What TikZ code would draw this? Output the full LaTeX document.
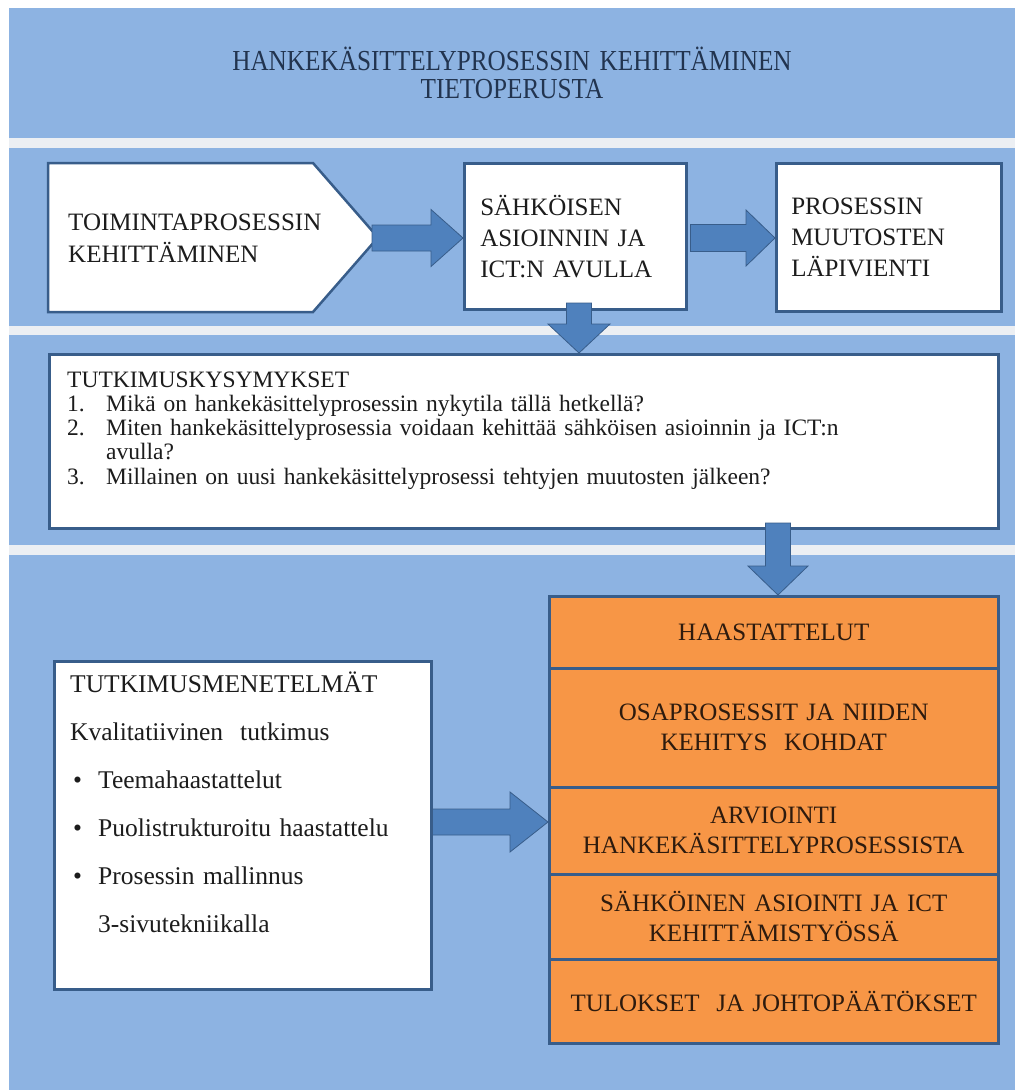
\documentclass[tikz,border=0pt]{standalone}
\usepackage{fontspec}
\setmainfont{Liberation Serif}
\newfontfamily\titlefont[FakeStretch=0.87]{Liberation Serif}
\usetikzlibrary{calc}

\definecolor{bandblue}{HTML}{8DB3E2}
\definecolor{gapgrey}{HTML}{ECEFF3}
\definecolor{edgeblue}{HTML}{385D8A}
\definecolor{arrowblue}{HTML}{4F81BD}
\definecolor{boxorange}{HTML}{F79646}
\definecolor{titleink}{HTML}{22344F}
\definecolor{bodyink}{HTML}{1C1C1C}
\definecolor{orangeink}{HTML}{2E1B0E}

\tikzset{
  whitebox/.style={rectangle, draw=edgeblue, line width=2.5pt, fill=white, anchor=north west, inner sep=0pt},
  orangebox/.style={rectangle, draw=edgeblue, line width=2.5pt, fill=boxorange, anchor=north west,
    inner sep=0pt, minimum width=449pt, text width=440pt, align=center, text=orangeink,
    font=\fontsize{25}{30}\selectfont},
  fatarrow/.style={fill=arrowblue, draw=edgeblue, line width=0.8pt, line join=miter},
  bodytext/.style={inner sep=0pt, anchor=base west, align=left, text=bodyink},
}

% thick block arrow from #1 to #2: shaft half width #3, head half width #4, head length #5
\newcommand\blockarrow[5]{%
  \coordinate (ba-b) at ($(#2)!#5!(#1)$);
  \filldraw[fatarrow] ($(#1)!#3!90:(#2)$) -- ($(ba-b)!#3!90:(#2)$) -- ($(ba-b)!#4!90:(#2)$) -- (#2)
    -- ($(ba-b)!#4!-90:(#2)$) -- ($(ba-b)!#3!-90:(#2)$) -- ($(#1)!#3!-90:(#2)$) -- cycle;}

\begin{document}
\begin{tikzpicture}[x=1pt,y=-1pt]
\useasboundingbox (0,0) rectangle (1015,1090);
\fill[white] (0,0) rectangle (1015,1090);

% horizontal bands
\fill[gapgrey] (9,8) rectangle (1015,1090);
\fill[bandblue] (9,8) rectangle (1015,138);
\fill[bandblue] (9,148) rectangle (1015,326);
\fill[bandblue] (9,335) rectangle (1015,545);
\fill[bandblue] (9,555) rectangle (1015,1090);

% title
\node[inner sep=0pt, anchor=base, text width=900pt, align=center, text=titleink,
      font=\titlefont\fontsize{29}{28}\selectfont] (title) at (512,70)
  {HANKEKÄSITTELYPROSESSIN KEHITTÄMINEN\\TIETOPERUSTA};

% first row of process steps
\coordinate (pent-nw) at (48,163);
\coordinate (pent-ne) at (313,163);
\coordinate (pent-tip) at (378,237.5);
\coordinate (pent-se) at (313,312);
\coordinate (pent-sw) at (48,312);
\filldraw[draw=edgeblue, line width=2.5pt, fill=white, line join=miter]
  (pent-nw) -- (pent-ne) -- (pent-tip) -- (pent-se) -- (pent-sw) -- cycle;
\node[bodytext, text width=300pt, font=\fontsize{25}{32}\selectfont] (pent) at (68,230)
  {TOIMINTAPROSESSIN\\KEHITTÄMINEN};

\node[whitebox, minimum width=222pt, minimum height=146pt, text width=190pt, inner xsep=16pt,
      align=left, text=bodyink, font=\fontsize{25}{31}\selectfont] (box2) at (463,162)
  {SÄHKÖISEN\\ASIOINNIN JA\\ICT:N AVULLA};

\node[whitebox, minimum width=225pt, minimum height=148pt, text width=195pt, inner xsep=15pt,
      align=left, text=bodyink, font=\fontsize{25}{31}\selectfont] (box3) at (775,162)
  {PROSESSIN\\MUUTOSTEN\\LÄPIVIENTI};

% research questions
\node[whitebox, minimum width=949pt, minimum height=174pt] (q) at (48,353) {};
\node[bodytext, text width=920pt, font=\fontsize{23.5}{24.3}\selectfont] (qtext) at (67,387)
  {TUTKIMUSKYSYMYKSET\\
   \makebox[39pt][l]{1.}Mikä on hankekäsittelyprosessin nykytila tällä hetkellä?\\
   \makebox[39pt][l]{2.}Miten hankekäsittelyprosessia voidaan kehittää sähköisen asioinnin ja ICT:n\\
   \hspace*{39pt}avulla?\\
   \makebox[39pt][l]{3.}Millainen on uusi hankekäsittelyprosessi tehtyjen muutosten jälkeen?};

% research methods
\node[whitebox, minimum width=377pt, minimum height=328pt] (meth) at (53,660) {};
\node[bodytext, text width=350pt, font=\fontsize{25.5}{48}\selectfont] (methtext) at (70,692)
  {TUTKIMUSMENETELMÄT\\
   Kvalitatiivinen\ \ tutkimus\\
   \hspace*{3pt}\makebox[25pt][l]{\textbullet}Teemahaastattelut\\
   \hspace*{3pt}\makebox[25pt][l]{\textbullet}Puolistrukturoitu haastattelu\\
   \hspace*{3pt}\makebox[25pt][l]{\textbullet}Prosessin mallinnus\\
   \hspace*{28pt}3-sivutekniikalla};

% stacked result blocks
\node[orangebox, minimum height=72pt]  (r1) at (548,595) {HAASTATTELUT};
\node[orangebox, minimum height=119pt] (r2) at (548,667) {OSAPROSESSIT JA NIIDEN\\KEHITYS\ \ KOHDAT};
\node[orangebox, minimum height=87pt]  (r3) at (548,786) {ARVIOINTI\\HANKEKÄSITTELYPROSESSISTA};
\node[orangebox, minimum height=85pt]  (r4) at (548,873) {SÄHKÖINEN ASIOINTI JA ICT\\KEHITTÄMISTYÖSSÄ};
\node[orangebox, minimum height=84pt]  (r5) at (548,958) {TULOKSET\ \ JA JOHTOPÄÄTÖKSET};

% block arrows
\coordinate (a1s) at (372,238);
\coordinate (a1e) at (box2.west |- a1s);
\blockarrow{a1s}{a1e}{13pt}{28.5pt}{32pt}

\coordinate (a2s) at ($(box2.east |- a1s)+(3,0)$);
\coordinate (a2e) at (box3.west |- a1s);
\blockarrow{a2s}{a2e}{13.5pt}{28pt}{29pt}

\coordinate (d1s) at (579,303);
\coordinate (d1e) at (d1s |- q.north);
\blockarrow{d1s}{d1e}{12.5pt}{31pt}{29pt}

\coordinate (d2s) at (778,523);
\coordinate (d2e) at (d2s |- r1.north);
\blockarrow{d2s}{d2e}{12.5pt}{30pt}{29pt}

\coordinate (a3s) at (meth.east |- 0,822);
\coordinate (a3e) at (r3.west |- a3s);
\blockarrow{a3s}{a3e}{13pt}{30pt}{38pt}
\end{tikzpicture}
\end{document}
